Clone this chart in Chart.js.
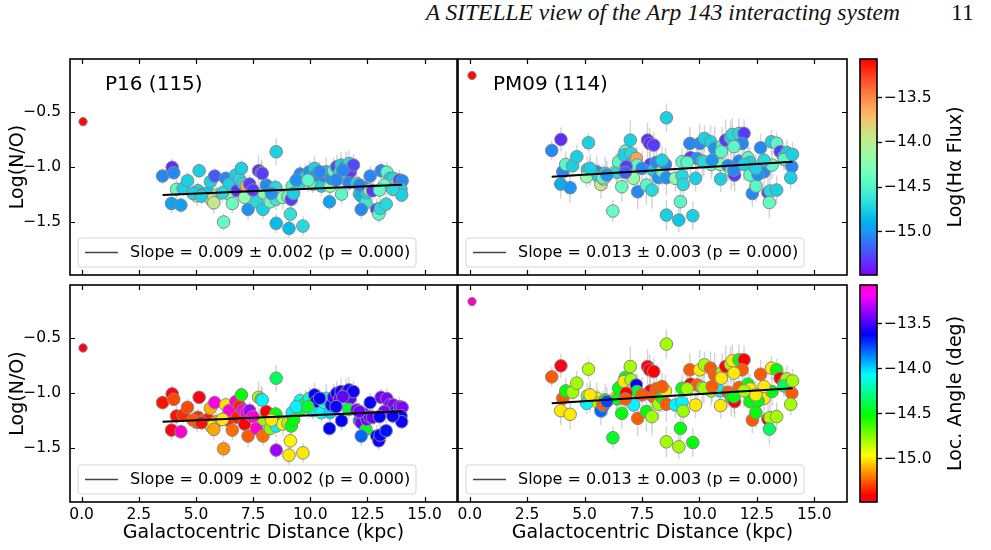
<!DOCTYPE html>
<html>
<head>
<meta charset="utf-8">
<script src="https://cdn.jsdelivr.net/npm/chart.js@4.4.0/dist/chart.umd.min.js"></script>
<style>
body{margin:0;background:#fff;width:991px;height:550px;position:relative;overflow:hidden}
canvas{position:absolute}
.head{position:absolute;top:1px;font:italic 23.5px 'Liberation Serif',serif;line-height:1;color:#111;white-space:nowrap}
</style>
</head>
<body>
<div class="head" style="right:91px">A SITELLE view of the Arp 143 interacting system</div>
<div class="head" style="left:951px;font-style:normal">11</div>
<canvas id="tl" width="460" height="222" style="left:0;top:56px"></canvas>
<canvas id="tr" width="395" height="222" style="left:455px;top:56px"></canvas>
<canvas id="bl" width="460" height="268" style="left:0;top:282px"></canvas>
<canvas id="br" width="395" height="268" style="left:455px;top:282px"></canvas>
<canvas id="cb1" width="133" height="222" style="left:858px;top:56px"></canvas>
<canvas id="cb2" width="133" height="223" style="left:858px;top:282px"></canvas>
<script>
// ---- data (P16 left, PM09 right) ----
const xTicks = [0, 2.5, 5, 7.5, 10, 12.5, 15]
const yTicks = [-1.5, -1.0, -0.5]
const cbTicks = [-15.0, -14.5, -14.0, -13.5]
const xRange = [-0.51, 16.42], yRange = [-1.985, -0.02], cbRange = [-15.48, -13.07]

const distL = [3.54,3.96,4.03,4.15,4.44,4.63,3.93,4.34,5.14,5.09,
5.05,5.31,5.53,5.63,5.82,5.89,5.68,5.78,6.30,6.21,
6.40,6.45,6.59,6.74,6.80,6.91,6.99,7.06,7.13,7.20,
7.28,7.35,7.64,7.74,7.86,7.90,7.93,7.96,8.08,8.25,
8.34,8.48,8.51,8.51,8.51,8.80,9.02,9.13,9.07,9.17,
9.21,9.27,9.53,9.56,9.68,9.79,9.97,10.11,10.19,10.26,
10.49,10.62,10.70,10.87,10.84,10.92,11.02,11.16,11.28,11.35,
11.37,11.50,11.57,11.69,11.75,11.89,11.69,12.04,12.15,12.23,
12.33,12.44,12.47,12.59,12.73,12.62,12.23,12.91,13.00,13.06,
13.32,13.10,13.35,13.49,13.64,13.75,13.90,14.02,13.97,14.00,
4.87,5.24,6.16,7.49,8.30,9.39,9.90,10.41,11.43,12.15,
13.24,13.61,13.03,11.13]
const noL = [-1.085,-1.006,-1.055,-1.206,-1.197,-1.128,-1.334,-1.349,-1.037,-1.218,
-1.264,-1.249,-1.237,-1.137,-1.085,-1.258,-1.303,-1.328,-1.106,-1.503,
-1.243,-1.158,-1.334,-1.076,-1.218,-1.115,-1.015,-1.152,-1.279,-1.176,
-1.388,-1.158,-1.319,-1.037,-1.055,-1.061,-1.388,-1.237,-1.167,-1.319,
-1.237,-1.188,-0.864,-1.297,-1.515,-1.279,-1.273,-1.431,-1.561,-1.297,
-1.176,-1.243,-1.152,-1.067,-1.540,-1.091,-1.046,-1.158,-1.015,-1.076,
-1.176,-1.085,-1.046,-1.176,-1.319,-1.106,-1.037,-1.000,-1.055,-0.985,
-1.249,-1.061,-0.994,-0.970,-1.046,-0.985,-1.146,-1.152,-1.249,-1.267,
-1.188,-1.328,-1.237,-1.212,-1.218,-1.085,-1.388,-1.388,-1.431,-1.379,
-1.340,-1.037,-1.049,-1.106,-1.106,-1.158,-1.122,-1.128,-1.206,-1.258,
-1.243,-1.267,-1.237,-1.212,-1.243,-1.122,-1.122,-1.046,-1.031,-1.167,
-1.167,-1.206,-1.212,-1.122]
const errL = [0.07,0.08,0.06,0.09,0.07,0.08,0.09,0.07,0.06,0.08,
0.09,0.07,0.08,0.06,0.07,0.08,0.09,0.1,0.07,0.08,
0.06,0.07,0.09,0.08,0.07,0.06,0.08,0.1,0.09,0.07,
0.1,0.08,0.07,0.14,0.12,0.11,0.09,0.1,0.08,0.07,
0.09,0.08,0.12,0.1,0.09,0.11,0.08,0.1,0.09,0.08,
0.07,0.09,0.1,0.08,0.09,0.12,0.1,0.08,0.11,0.1,
0.09,0.08,0.13,0.1,0.08,0.09,0.12,0.11,0.1,0.12,
0.09,0.1,0.13,0.12,0.11,0.1,0.08,0.09,0.07,0.08,
0.09,0.08,0.1,0.07,0.08,0.09,0.09,0.1,0.08,0.09,
0.1,0.08,0.09,0.1,0.07,0.08,0.09,0.07,0.08,0.07,
0.08,0.07,0.09,0.1,0.08,0.1,0.11,0.09,0.1,0.08,
0.09,0.07,0.08,0.09]
const fluxL = [-15.05,-15.35,-15.05,-14.4,-14.75,-14.75,-14.95,-14.95,-14.75,-14.75,
-14.2,-15.0,-14.8,-14.75,-15.2,-14.05,-13.95,-13.95,-15.05,-14.4,
-14.25,-14.75,-14.4,-14.75,-15.35,-14.7,-14.75,-14.7,-14.2,-13.6,
-15.0,-15.3,-14.7,-15.35,-15.35,-15.3,-14.75,-14.25,-15.05,-14.4,
-15.0,-14.7,-14.75,-14.6,-14.85,-14.2,-14.45,-14.65,-14.85,-15.3,
-14.5,-14.75,-14.7,-15.05,-14.7,-14.75,-15.0,-14.4,-14.75,-15.0,
-14.75,-15.05,-14.8,-14.2,-14.95,-15.0,-14.45,-15.25,-14.7,-14.75,
-14.45,-14.7,-15.05,-14.7,-15.3,-15.25,-15.05,-14.7,-14.75,-14.85,
-15.05,-14.6,-14.75,-13.95,-15.3,-15.05,-15.05,-15.3,-14.45,-14.7,
-14.7,-15.05,-14.45,-14.75,-14.7,-14.4,-15.3,-15.05,-14.75,-14.75,
-14.75,-14.75,-14.7,-15.3,-15.0,-15.0,-14.45,-15.05,-15.05,-15.05,
-14.4,-14.7,-14.4,-15.05]
const angleL = [-15.38,-15.45,-15.28,-15.38,-15.33,-15.28,-15.45,-13.1,-15.45,-15.33,
-15.25,-15.25,-15.35,-15.1,-13.12,-15.15,-15.0,-15.12,-15.02,-15.15,
-15.35,-13.12,-15.22,-13.1,-15.35,-15.35,-14.5,-13.15,-15.42,-13.12,
-15.25,-13.35,-13.1,-14.8,-14.55,-14.05,-15.22,-14.78,-15.42,-14.75,
-15.0,-14.5,-14.35,-14.05,-13.35,-14.98,-14.8,-14.98,-15.0,-14.5,
-14.05,-14.52,-14.45,-14.1,-15.0,-14.4,-14.15,-14.05,-13.6,-13.6,
-14.05,-14.1,-14.05,-14.0,-13.62,-13.65,-13.5,-13.6,-13.45,-13.58,
-13.62,-14.05,-13.6,-13.58,-13.45,-13.6,-14.45,-13.42,-13.85,-13.42,
-13.42,-14.45,-13.42,-13.45,-13.45,-13.62,-13.8,-13.62,-13.6,-13.62,
-13.65,-13.42,-13.4,-13.42,-13.4,-13.6,-13.4,-13.4,-13.6,-13.6,
-15.25,-15.38,-15.0,-13.12,-15.0,-14.05,-14.45,-13.62,-13.45,-13.42,
-13.4,-13.6,-13.62,-13.6]

const distR = [3.57,3.97,3.96,4.05,4.18,4.37,4.48,4.66,5.17,5.12,
5.24,5.09,5.53,5.60,5.71,5.82,5.90,5.79,6.23,6.38,
6.43,6.48,6.62,6.77,6.72,6.99,7.02,7.13,7.25,7.28,
6.81,7.31,7.13,7.69,7.74,7.83,8.01,7.86,7.98,7.93,
8.12,8.22,8.37,8.52,8.56,8.56,8.56,8.95,9.10,9.17,
9.24,9.24,9.29,9.58,9.61,9.71,9.83,9.90,10.01,10.12,
10.22,10.48,10.51,10.66,10.89,10.92,10.99,10.95,11.14,11.35,
11.43,11.24,11.38,11.53,11.72,11.72,11.94,11.86,12.11,12.20,
12.20,12.30,12.46,12.66,12.63,12.81,12.55,12.98,13.07,13.04,
13.13,13.16,13.36,13.36,13.51,13.68,13.80,13.68,14.05,14.02,
13.97,8.37,10.19,11.50,12.45,12.81,7.50,5.97,11.94,10.55,
11.50,5.24,6.77,9.46]
const noR = [-0.852,-0.752,-1.158,-1.046,-0.979,-1.191,-0.991,-0.909,-0.782,-1.025,
-1.046,-1.091,-1.046,-1.091,-1.161,-1.112,-1.061,-1.100,-1.403,-1.037,
-1.052,-0.955,-1.182,-0.858,-0.894,-0.758,-0.879,-0.961,-0.925,-0.985,
-1.000,-1.228,-1.106,-1.167,-0.758,-0.788,-0.803,-0.979,-1.031,-1.212,
-0.961,-1.100,-1.040,-0.979,-0.555,-1.100,-1.440,-1.106,-1.485,-1.318,
-1.082,-0.955,-1.161,-0.788,-0.918,-1.446,-1.106,-0.925,-0.788,-0.949,
-0.743,-0.773,-0.979,-0.834,-0.979,-1.112,-0.809,-0.864,-0.758,-0.737,
-0.706,-0.991,-1.040,-1.076,-0.949,-0.697,-0.697,-0.788,-0.918,-0.961,
-1.076,-1.243,-1.176,-0.828,-1.015,-1.046,-1.070,-1.234,-1.221,-1.325,
-0.773,-0.985,-0.788,-1.212,-0.864,-0.909,-0.870,-0.934,-0.888,-1.000,
-1.100,-0.940,-0.955,-1.031,-1.015,-0.940,-1.015,-1.076,-0.979,-0.940,
-0.818,-1.015,-1.052,-0.961]
const errR = [0.09,0.11,0.13,0.1,0.12,0.14,0.1,0.11,0.09,0.12,
0.13,0.1,0.14,0.12,0.13,0.11,0.15,0.12,0.1,0.16,
0.12,0.11,0.14,0.12,0.1,0.18,0.13,0.12,0.11,0.15,
0.14,0.16,0.12,0.18,0.16,0.14,0.12,0.15,0.13,0.17,
0.12,0.14,0.13,0.15,0.13,0.16,0.14,0.12,0.11,0.15,
0.13,0.12,0.14,0.15,0.17,0.13,0.12,0.16,0.18,0.14,
0.12,0.15,0.13,0.2,0.15,0.12,0.17,0.14,0.19,0.16,
0.15,0.14,0.17,0.15,0.13,0.14,0.13,0.16,0.11,0.14,
0.13,0.12,0.14,0.13,0.12,0.14,0.12,0.15,0.16,0.14,
0.11,0.13,0.1,0.13,0.12,0.11,0.12,0.1,0.11,0.12,
0.1,0.13,0.14,0.15,0.13,0.14,0.16,0.13,0.15,0.14,
0.12,0.13,0.14,0.12]
const fluxR = [-15.05,-15.35,-14.9,-15.05,-14.45,-15.0,-14.75,-14.75,-14.75,-14.75,
-14.7,-14.2,-15.05,-14.75,-13.95,-13.95,-14.7,-14.45,-14.4,-14.45,
-14.7,-14.45,-14.4,-14.45,-14.75,-14.75,-14.7,-14.75,-13.6,-14.45,
-15.3,-15.05,-14.2,-14.45,-15.35,-15.35,-15.3,-15.3,-14.75,-14.7,
-15.05,-15.0,-14.45,-15.05,-14.75,-15.0,-14.75,-14.2,-14.8,-14.45,
-14.7,-14.45,-14.7,-15.05,-15.3,-14.75,-14.75,-15.0,-15.05,-14.75,
-14.75,-14.75,-14.45,-15.0,-14.25,-14.75,-14.45,-14.45,-15.3,-14.75,
-14.7,-15.05,-14.45,-15.3,-15.05,-14.7,-15.3,-15.05,-14.45,-14.75,
-14.45,-15.05,-14.45,-15.05,-13.95,-15.05,-15.0,-15.3,-14.7,-14.4,
-14.75,-14.45,-14.45,-14.75,-15.3,-14.75,-14.75,-14.45,-14.75,-15.05,
-14.75,-14.75,-14.7,-15.05,-14.75,-14.7,-15.05,-15.0,-14.75,-15.0,
-14.45,-14.75,-15.2,-14.45]
const angleR = [-15.25,-15.45,-15.0,-15.25,-14.5,-15.0,-14.8,-14.8,-14.82,-14.8,
-14.55,-14.05,-15.0,-14.8,-13.8,-13.75,-14.5,-15.25,-14.45,-15.0,
-14.5,-14.5,-14.5,-14.5,-15.0,-14.8,-14.8,-15.0,-13.6,-14.45,
-15.42,-15.25,-14.05,-14.5,-15.45,-15.42,-15.42,-15.45,-15.25,-14.8,
-15.25,-14.8,-14.5,-15.0,-14.8,-15.25,-14.8,-14.05,-14.8,-14.5,
-14.05,-14.5,-14.78,-15.25,-15.42,-14.5,-15.0,-15.25,-15.0,-14.8,
-14.8,-15.25,-14.8,-15.25,-14.05,-15.0,-14.8,-15.0,-15.42,-14.8,
-15.0,-15.25,-14.5,-15.42,-15.25,-14.5,-15.42,-15.25,-14.5,-15.0,
-14.5,-15.25,-14.5,-15.25,-13.75,-15.0,-14.5,-15.42,-14.8,-14.35,
-15.0,-14.5,-14.5,-14.8,-15.42,-15.25,-14.8,-14.35,-14.8,-15.25,
-14.8,-15.25,-14.8,-14.5,-15.0,-15.0,-15.25,-13.75,-14.8,-15.25,
-15.0,-15.0,-15.25,-14.8]

// central (nucleus) point of each galaxy
const nucDist = [0.06, 0.10], nucNO = [-0.59, -0.17]
const nucFlux = [-13.1, -13.1], nucAngle = [-15.45, -13.07]

// linear fits
const slopes = [0.009, 0.013], slopeErr = [0.002, 0.003], pValue = [0.000, 0.000]
const intercepts = [-1.29, -1.137]
const names = ['P16 (115)', 'PM09 (114)']

// ---- colour maps ----
const gistStops = {
  r: [[0,1],[0.03,1],[0.215,1],[0.4,0],[0.586,0],[0.77,0],[0.954,1],[1,1]],
  g: [[0,0],[0.03,0],[0.215,1],[0.4,1],[0.586,1],[0.77,0],[0.954,0],[1,0]],
  b: [[0,0.16],[0.03,0],[0.215,0],[0.4,0],[0.586,1],[0.77,1],[0.954,1],[1,0.75]]
}
const lerpStops = (s, t) => {
  for (let i = 1; i < s.length; i++) if (t <= s[i][0]) {
    const f = (t - s[i-1][0]) / (s[i][0] - s[i-1][0])
    return s[i-1][1] + f * (s[i][1] - s[i-1][1])
  }
  return s[s.length-1][1]
}
const rainbow = t => [Math.abs(2*t - 0.5), Math.sin(Math.PI*t), Math.cos(Math.PI*t/2)]
const gistRainbow = t => ['r','g','b'].map(k => lerpStops(gistStops[k], t))
const toRgb = a => 'rgb(' + a.map(c => Math.round(255*Math.min(1, Math.max(0, c)))).join(',') + ')'
const colourOf = (map, v) => toRgb(map(Math.min(1, Math.max(0, (v - cbRange[0]) / (cbRange[1] - cbRange[0])))))

const FONT = "'DejaVu Sans', sans-serif"
const fmt = v => v.toFixed(1).replace('-', '\u2212')
Chart.defaults.color = '#000'
Chart.defaults.font.family = FONT

// fixed box sizes so the plot areas land where the figure has them
const fixBox = (w, h) => s => {
  if (w !== null) s.width = w
  if (h !== null) s.height = h
  s.paddingLeft = s.paddingRight = s.paddingTop = s.paddingBottom = 0
}

// error bars, frame, inward ticks, label and legend box
const panelDeco = {
  id: 'panelDeco',
  beforeDatasetsDraw(chart, args, o) {
    const {ctx, scales: {x, y}} = chart
    ctx.save()
    ctx.strokeStyle = 'rgba(175,175,175,0.55)'
    ctx.lineWidth = 1.4
    o.dist.forEach((d, i) => {
      const px = x.getPixelForValue(d)
      ctx.beginPath()
      ctx.moveTo(px, y.getPixelForValue(o.no[i] - o.err[i]))
      ctx.lineTo(px, y.getPixelForValue(o.no[i] + o.err[i]))
      ctx.stroke()
    })
    ctx.restore()
  },
  afterDraw(chart, args, o) {
    const {ctx, chartArea: a, scales: {x, y}} = chart
    ctx.save()
    ctx.strokeStyle = '#000'
    ctx.lineWidth = 1.2
    xTicks.forEach(v => {
      const p = Math.round(x.getPixelForValue(v)) + 0.5
      ctx.beginPath(); ctx.moveTo(p, a.bottom); ctx.lineTo(p, a.bottom - 5)
      ctx.moveTo(p, a.top); ctx.lineTo(p, a.top + 5); ctx.stroke()
    })
    yTicks.forEach(v => {
      const p = Math.round(y.getPixelForValue(v)) + 0.5
      ctx.beginPath(); ctx.moveTo(a.left, p); ctx.lineTo(a.left + 5, p)
      ctx.moveTo(a.right, p); ctx.lineTo(a.right - 5, p); ctx.stroke()
    })
    ctx.lineWidth = 1.6
    ctx.strokeRect(a.left, a.top, a.right - a.left, a.bottom - a.top)
    // panel name
    ctx.fillStyle = '#000'
    ctx.textBaseline = 'middle'
    if (o.name) {
      ctx.font = '20px ' + FONT
      ctx.fillText(o.name, a.left + 35, a.top + 26)
    }
    // legend
    const lx = a.left + 8, ly = a.bottom - 37
    ctx.beginPath()
    ctx.roundRect(lx, ly, 338, 29, 3)
    ctx.fillStyle = 'rgba(255,255,255,0.8)'
    ctx.fill()
    ctx.strokeStyle = '#d6d6d6'
    ctx.lineWidth = 1
    ctx.stroke()
    ctx.strokeStyle = '#444'
    ctx.lineWidth = 1.5
    ctx.beginPath(); ctx.moveTo(lx + 7, ly + 14.5); ctx.lineTo(lx + 40, ly + 14.5); ctx.stroke()
    ctx.fillStyle = '#000'
    ctx.font = '16px ' + FONT
    ctx.fillText(o.legend, lx + 52, ly + 15)
    ctx.restore()
  }
}

function makePanel(id, g, colours, map, nucColour, showY, showX, showName) {
  const dist = g ? distR : distL, no = g ? noR : noL, err = g ? errR : errL
  const x0 = Math.min(...dist), x1 = Math.max(...dist)
  const legend = 'Slope = ' + slopes[g].toFixed(3) + ' \u00b1 ' + slopeErr[g].toFixed(3) +
    ' (p = ' + pValue[g].toFixed(3) + ')'
  new Chart(document.getElementById(id), {
    type: 'scatter',
    data: {
      datasets: [{
        data: [x0, x1].map(v => ({x: v, y: intercepts[g] + slopes[g] * v})),
        showLine: true, borderColor: '#000', borderWidth: 2, pointRadius: 0, order: 0
      }, {
        data: dist.map((d, i) => ({x: d, y: no[i]})),
        backgroundColor: colours.map(v => colourOf(map, v)),
        borderColor: '#888', borderWidth: 1, pointRadius: 6.3, order: 1
      }, {
        data: [{x: nucDist[g], y: nucNO[g]}],
        backgroundColor: colourOf(map, nucColour),
        borderColor: '#888', borderWidth: 1, pointRadius: 4.2, order: 1
      }]
    },
    options: {
      responsive: false, animation: false, events: [],
      layout: {autoPadding: false, padding: {top: 3, right: 3, left: 0, bottom: 0}},
      plugins: {legend: {display: false}, tooltip: {enabled: false},
        panelDeco: {dist, no, err, legend, name: showName ? names[g] : ''}},
      scales: {
        x: {
          type: 'linear', min: xRange[0], max: xRange[1],
          afterBuildTicks: s => { s.ticks = xTicks.map(v => ({value: v})) },
          afterFit: fixBox(null, showX ? 48 : 3),
          grid: {display: false, drawTicks: false}, border: {display: false},
          ticks: {display: showX, padding: 4, font: {size: 15.5}, callback: fmt, maxRotation: 0},
          title: {display: showX, text: 'Galactocentric Distance (kpc)', font: {size: 19},
            padding: {top: 0, bottom: 5.5}}
        },
        y: {
          type: 'linear', min: yRange[0], max: yRange[1],
          afterBuildTicks: s => { s.ticks = yTicks.map(v => ({value: v})) },
          afterFit: fixBox(showY ? 70 : 3, null),
          grid: {display: false, drawTicks: false}, border: {display: false},
          ticks: {display: showY, padding: 9, font: {size: 15.5}, callback: fmt},
          title: {display: showY, text: 'Log(N/O)', font: {size: 19}, padding: {top: 6.5, bottom: 0}}
        }
      }
    },
    plugins: [panelDeco]
  })
}

makePanel('tl', 0, fluxL, rainbow, nucFlux[0], true, false, true)
makePanel('tr', 1, fluxR, rainbow, nucFlux[1], false, false, true)
makePanel('bl', 0, angleL, gistRainbow, nucAngle[0], true, true, false)
makePanel('br', 1, angleR, gistRainbow, nucAngle[1], false, true, false)

// colour bars
const barDeco = {
  id: 'barDeco',
  beforeDraw(chart, args, o) {
    const {ctx, chartArea: a, scales: {y}} = chart
    for (let p = Math.floor(a.top); p < a.bottom; p++) {
      ctx.fillStyle = colourOf(o.map, y.getValueForPixel(p + 0.5))
      ctx.fillRect(a.left, p, a.right - a.left, 1)
    }
  },
  afterDraw(chart, args, o) {
    const {ctx, chartArea: a} = chart
    ctx.save()
    ctx.strokeStyle = '#000'
    ctx.lineWidth = 1.6
    ctx.strokeRect(a.left, a.top, a.right - a.left, a.bottom - a.top)
    ctx.translate(a.left + 96, (a.top + a.bottom) / 2)
    ctx.rotate(-Math.PI / 2)
    ctx.font = '19px ' + FONT
    ctx.fillStyle = '#000'
    ctx.textAlign = 'center'
    ctx.textBaseline = 'middle'
    ctx.fillText(o.title, 0, 0)
    ctx.restore()
  }
}

function makeBar(id, map, title) {
  new Chart(document.getElementById(id), {
    type: 'scatter',
    data: {datasets: []},
    options: {
      responsive: false, animation: false, events: [],
      layout: {autoPadding: false, padding: {top: 3, bottom: 3, left: 2, right: 0}},
      plugins: {legend: {display: false}, tooltip: {enabled: false}, barDeco: {map, title}},
      scales: {
        x: {display: false, min: 0, max: 1},
        y: {
          position: 'right', min: cbRange[0], max: cbRange[1],
          afterBuildTicks: s => { s.ticks = cbTicks.map(v => ({value: v})) },
          afterFit: fixBox(114, null),
          grid: {drawOnChartArea: false, tickLength: 5, tickColor: '#000', tickWidth: 1.3},
          border: {display: false},
          ticks: {padding: 2, font: {size: 15.5}, callback: fmt}
        }
      }
    },
    plugins: [barDeco]
  })
}

makeBar('cb1', rainbow, 'Log(H\u03b1 Flux)')
makeBar('cb2', gistRainbow, 'Loc. Angle (deg)')
</script>
</body>
</html>
